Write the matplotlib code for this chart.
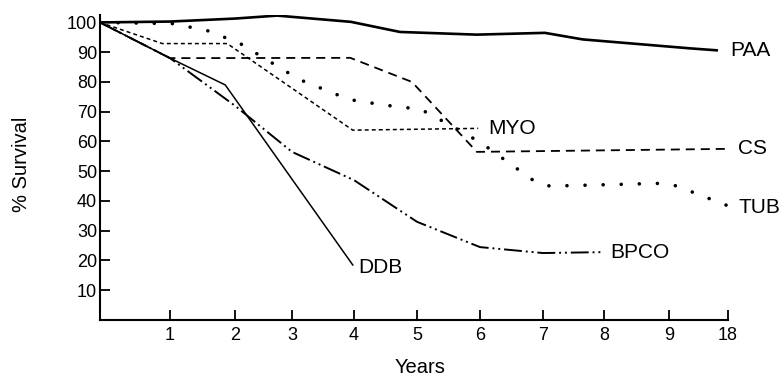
import numpy as np
import matplotlib.pyplot as plt

plt.rcParams['font.family'] = ['Liberation Sans', 'DejaVu Sans']

# x axis is categorical: index 0 = start, 1..10 = year labels below
year_labels = ['1', '2', '3', '4', '5', '6', '7', '8', '9', '18']

# survival curves (x in year-index units, y in % survival)
paa_x = [0, 1, 2, 2.74, 3.95, 4.73, 5.95, 7.03, 7.65, 9.35, 9.83]
paa_y = [100, 100.3, 101.3, 102.3, 100.2, 96.8, 95.9, 96.5, 94.3, 91.3, 90.6]

ddb_x = [0, 1, 1.85, 3.98]
ddb_y = [100, 88, 79, 18.5]

bpco_x = [0, 1, 2, 3, 4, 5, 6, 7, 7.95]
bpco_y = [100, 88, 72, 56.5, 47, 33, 24.5, 22.5, 22.8]

cs_x = [0, 1, 3.94, 4.92, 5.95, 9.95]
cs_y = [100, 88, 88.1, 80, 56.5, 57.5]

myo_x = [0, 0.89, 1.88, 3.98, 5.97]
myo_y = [100, 92.9, 92.9, 63.8, 64.4]

tub_x = [0, 1.05, 1.6, 2.1, 3.11, 3.92, 4.49, 5.06, 5.56, 6.02, 6.44, 6.86, 7.11, 8.83, 9.12, 9.97]
tub_y = [100, 99.6, 97.1, 92.8, 80.9, 74.1, 72.2, 70.8, 65.1, 59.5, 53.1, 46.7, 45.0, 45.9, 45.1, 38.6]

# hand-drawn axis: ticks are not evenly spaced, map index -> drawn distance
idx = np.arange(11)
drawn = np.array([0, 70, 135, 192, 254, 317, 380, 443, 504, 569, 628], dtype=float)

def fwd(x):
    return np.interp(x, idx, drawn)

def inv(x):
    return np.interp(x, drawn, idx)


fig = plt.figure(figsize=(7.82, 3.77), dpi=100)
ax = fig.add_axes([100 / 782, 1 - 320 / 377, 628 / 782, 305 / 377])
ax.set_xscale('function', functions=(fwd, inv))

ax.plot(paa_x, paa_y, color='black', lw=1.9, solid_capstyle='butt')
ax.plot(ddb_x, ddb_y, color='black', lw=1.1)
ax.plot(bpco_x, bpco_y, color='black', lw=1.4, linestyle=(0, (9.2, 2, 1, 2, 1, 2)))
ax.plot(cs_x, cs_y, color='black', lw=1.3, linestyle=(0, (5, 3.3)))
ax.plot(myo_x, myo_y, color='black', lw=1.1, linestyle=(0, (2.6, 2.0)))
ax.plot(tub_x, tub_y, color='black', lw=2.6, linestyle=(0, (0.01, 5)),
        dash_capstyle='round')

# curve labels at the end of each line
labels = [('PAA', paa_x, paa_y, (9, 0)),
          ('MYO', myo_x, myo_y, (7, 0)),
          ('CS', cs_x, cs_y, (9, 0)),
          ('TUB', tub_x, tub_y, (9, -2)),
          ('BPCO', bpco_x, bpco_y, (7, 0)),
          ('DDB', ddb_x, ddb_y, (4, -2))]
for name, xs, ys, off in labels:
    ax.annotate(name, (xs[-1], ys[-1]), xytext=off, textcoords='offset points',
                ha='left', va='center', fontsize=15)

ax.set_xlim(0, 10)
ax.set_ylim(0, 102.5)
ax.set_xticks(range(1, 11))
ax.set_xticklabels(year_labels)
ax.set_yticks(range(10, 101, 10))
ax.tick_params(axis='both', direction='in', length=7, width=1.3, labelsize=13)
ax.tick_params(axis='y', pad=2)
ax.tick_params(axis='x', pad=5)

for s in ['top', 'right']:
    ax.spines[s].set_visible(False)
for s in ['left', 'bottom']:
    ax.spines[s].set_linewidth(1.5)

ax.set_ylabel('% Survival', fontsize=14.5)
ax.yaxis.set_label_coords(-0.11, 0.51)
ax.set_xlabel('Years', fontsize=14.5)
ax.xaxis.set_label_coords(0.51, -0.125)

fig.savefig('out.png', dpi=100, facecolor='white')
